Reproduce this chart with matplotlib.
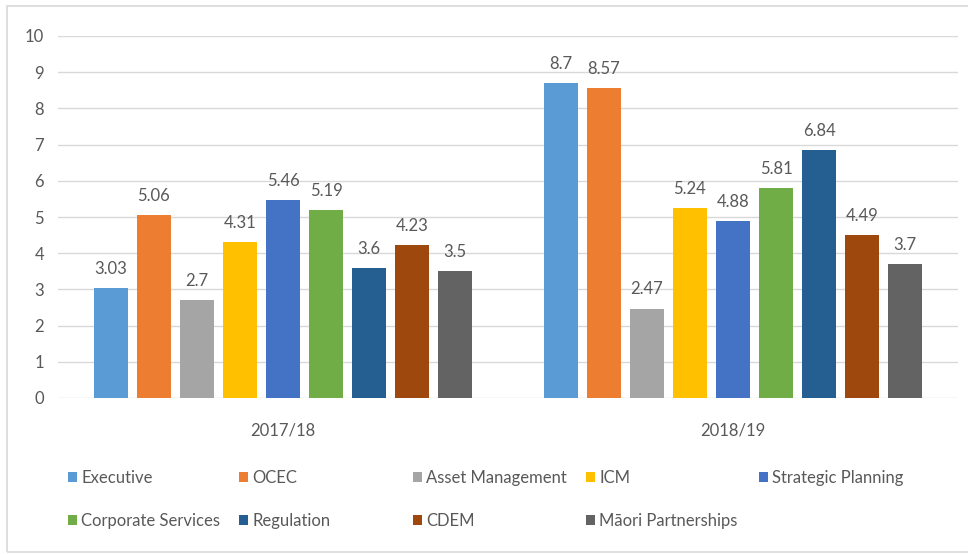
import matplotlib
matplotlib.use("Agg")
import matplotlib.pyplot as plt
from matplotlib.patches import Patch, Rectangle
import numpy as np

plt.rcParams['font.family'] = ['Lato', 'DejaVu Sans']

periods = ["2017/18", "2018/19"]
groups = ["Executive", "OCEC", "Asset Management", "ICM", "Strategic Planning",
          "Corporate Services", "Regulation", "CDEM", "Māori Partnerships"]
values_2017 = [3.03, 5.06, 2.7, 4.31, 5.46, 5.19, 3.6, 4.23, 3.5]
values_2018 = [8.7, 8.57, 2.47, 5.24, 4.88, 5.81, 6.84, 4.49, 3.7]
colors = ["#5B9BD5", "#ED7D31", "#A5A5A5", "#FFC000", "#4472C4",
          "#70AD47", "#255E91", "#9E480E", "#636363"]
yticks = list(range(0, 11))

text_color = "#595959"
grid_color = "#D9D9D9"

W, H = 968, 554
fig = plt.figure(figsize=(W / 100, H / 100), dpi=100)
ax = fig.add_axes([58 / W, 1 - 398 / H, 900 / W, 362 / H])

x = np.arange(len(periods))
slot = 0.0956
bar_w = 0.0756
n = len(groups)
for i, (name, col) in enumerate(zip(groups, colors)):
    vals = [values_2017[i], values_2018[i]]
    pos = x + (i - (n - 1) / 2) * slot
    bars = ax.bar(pos, vals, width=bar_w, color=col, label=name, zorder=3)
    for b, v in zip(bars, vals):
        ax.annotate(f"{v:g}", (b.get_x() + b.get_width() / 2, v),
                    xytext=(0, 8), textcoords="offset points",
                    ha="center", va="bottom", fontsize=12, color=text_color)

ax.set_xlim(-0.5, 1.5)
ax.set_ylim(0, 10)
ax.set_yticks(yticks)
ax.set_xticks(x)
ax.set_xticklabels(periods)
ax.yaxis.grid(True, color=grid_color, linewidth=1, zorder=0)
ax.set_axisbelow(True)
for s in ax.spines.values():
    s.set_visible(False)
ax.tick_params(axis="both", length=0, colors=text_color, labelsize=12)
ax.tick_params(axis="y", pad=10)
ax.tick_params(axis="x", pad=18)

# legend: two rows of evenly spaced entries
col_x = [68, 239, 413, 586, 759]
row_y = [478, 521]
for i, (name, col) in enumerate(zip(groups, colors)):
    r, c = divmod(i, 5)
    leg = fig.legend(handles=[Patch(facecolor=col, edgecolor="none")], labels=[name],
                     loc="center left",
                     bbox_to_anchor=(col_x[c] / W, 1 - row_y[r] / H),
                     frameon=False, fontsize=12, handlelength=0.55, handleheight=0.55,
                     handletextpad=0.25, borderpad=0, borderaxespad=0)
    for t in leg.get_texts():
        t.set_color(text_color)

# chart frame
fig.add_artist(Rectangle((7 / W, 1 - 552 / H), 1.0, (552 - 6) / H,
                         transform=fig.transFigure, fill=False,
                         edgecolor=grid_color, linewidth=1.2))

fig.savefig("out.png", dpi=100)
